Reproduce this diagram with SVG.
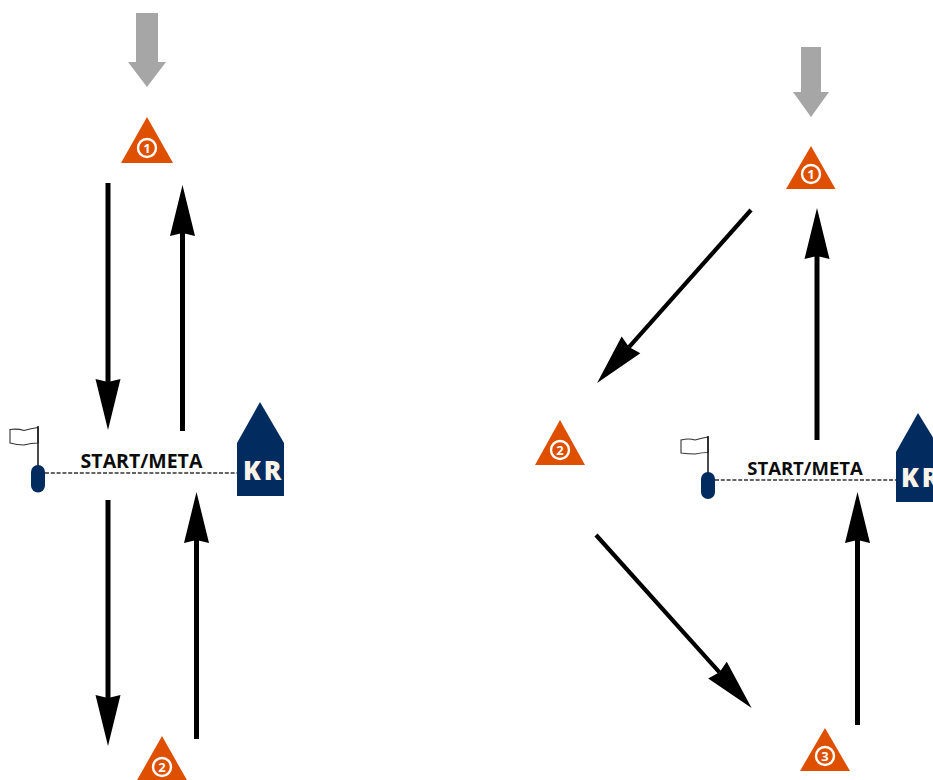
<svg xmlns="http://www.w3.org/2000/svg" width="933" height="780" viewBox="0 0 933 780">
<style>
.bg{fill:#fff}
.gray{fill:#a6a6a6}
.tri{fill:#de4f00}
.ring{fill:none;stroke:#fff;stroke-width:2.4}
.num{font:700 13px "Open Sans","Liberation Sans",sans-serif;fill:#fff;text-anchor:middle}
.conn{stroke:#000;stroke-width:5;fill:none;marker-end:url(#head)}
.thin{stroke-width:4.200}
.navy{fill:#022c5f}
.pole{stroke:#111;stroke-width:1.5;fill:none}
.flag{fill:#fff;stroke:#333;stroke-width:1.1}
.dash{stroke:#333;stroke-width:1.6;stroke-dasharray:4 1.8;fill:none}
.lbl{font-family:"Open Sans","Liberation Sans",sans-serif;font-weight:700;fill:#0c0c0c;text-anchor:middle}
.kr{font:800 26px "Open Sans","Liberation Sans",sans-serif;fill:#faf3e8;letter-spacing:3px}
</style>
<defs>
<marker id="head" markerUnits="userSpaceOnUse" viewBox="0 -15 58 30" markerWidth="58" markerHeight="30" refX="3" refY="0" orient="auto">
<path d="M51,0 L0,-12.500 L3,0 L0,12.500 Z" fill="#000"/>
</marker>
</defs>
<rect class="bg" width="933" height="780"/>
<g id="connectors">
<line class="conn" x1="108" y1="183" x2="108" y2="382"/>
<line class="conn" x1="182.500" y1="431" x2="182.500" y2="233"/>
<line class="conn" x1="108" y1="500" x2="108" y2="698"/>
<line class="conn" x1="196.500" y1="739" x2="196.500" y2="540"/>
<line class="conn" x1="817" y1="440" x2="817" y2="256"/>
<line class="conn" x1="857.500" y1="725" x2="857.500" y2="540"/>
<line class="conn thin" x1="751" y1="210" x2="629" y2="347.100"/>
<line class="conn thin" x1="596" y1="535" x2="719.500" y2="672.300"/>
</g>
<g id="wind-left"><path class="gray" d="M136,13H158V62H166L147,87L128,62H136Z"/></g>
<g id="wind-right"><path class="gray" d="M801,47H821V92H829L811,117L793,92H801Z"/></g>
<g id="mark-left-1"><path class="tri" d="M147,117L173,163H121Z"/><circle class="ring" cx="147" cy="148" r="9"/><text class="num" x="147" y="152.500">1</text></g>
<g id="mark-left-2"><path class="tri" d="M162,736L188,782H136Z"/><circle class="ring" cx="162" cy="767" r="9"/><text class="num" x="162" y="771.500">2</text></g>
<g id="mark-right-1"><path class="tri" d="M811,146L835.500,189H786Z"/><circle class="ring" cx="811" cy="174" r="9"/><text class="num" x="811" y="178.500">1</text></g>
<g id="mark-right-2"><path class="tri" d="M560,420L585,465H535Z"/><circle class="ring" cx="560" cy="450" r="9"/><text class="num" x="560" y="454.500">2</text></g>
<g id="mark-right-3"><path class="tri" d="M825,728L850,771H800Z"/><circle class="ring" cx="825" cy="756" r="9"/><text class="num" x="825" y="760.500">3</text></g>
<g id="start-left">
<line class="dash" x1="45" y1="473" x2="237" y2="473"/>
<path class="flag" d="M10,429.500Q18,428.500 24,430.500Q31,428.500 38,427.500V443Q31,443 24,445Q17,445 10,443Z"/>
<line class="pole" x1="38" y1="426" x2="38" y2="466"/>
<rect class="navy" x="31" y="465" width="14" height="27.500" rx="7"/>
<text class="lbl" x="141.500" y="468" font-size="19.500">START/META</text>
</g>
<g id="kr-left">
<path class="navy" d="M260,402L284,443V496H237V443Z"/>
<text class="kr" x="243" y="480">KR</text>
</g>
<g id="start-right">
<line class="dash" x1="715" y1="480" x2="896" y2="480"/>
<path class="flag" d="M681,440Q689,438 695,440Q702,438 708,437V452.500Q702,452.500 695,454Q688,454 681,453Z"/>
<line class="pole" x1="708" y1="436" x2="708" y2="473"/>
<rect class="navy" x="701" y="472" width="14" height="27" rx="7"/>
<text class="lbl" x="805" y="475" font-size="18.500">START/META</text>
</g>
<g id="kr-right">
<path class="navy" d="M918,413L942,452V502H896V452Z"/>
<text class="kr" x="901" y="487">KR</text>
</g>
</svg>
